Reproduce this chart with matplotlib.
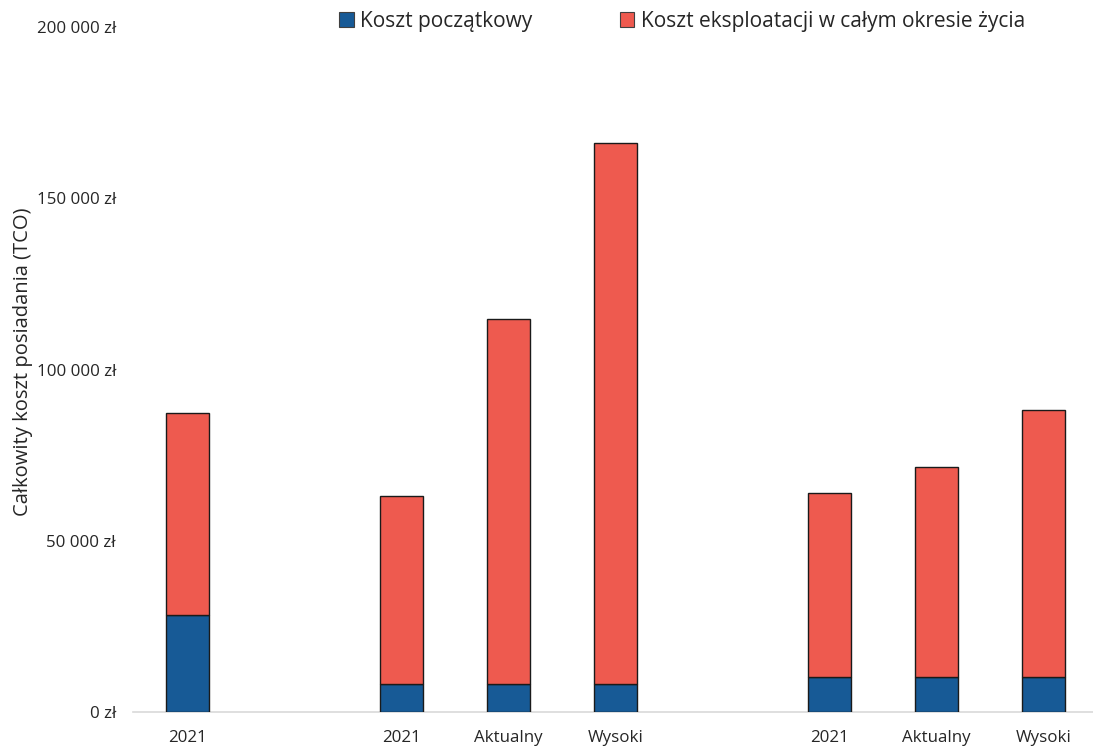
import matplotlib
matplotlib.use("Agg")
import matplotlib.pyplot as plt
from matplotlib.ticker import FuncFormatter
from matplotlib.patches import Patch

plt.rcParams['font.family'] = ['Open Sans', 'DejaVu Sans']

# Slot positions along the category axis (gaps at 1 and 5 separate the groups)
positions = [0, 2, 3, 4, 6, 7, 8]
labels = ["2021", "2021", "Aktualny", "Wysoki", "2021", "Aktualny", "Wysoki"]
initial_cost = [28300, 8250, 8250, 8250, 10150, 10150, 10150]
total_cost = [87200, 63050, 114850, 166150, 63850, 71450, 88200]
operating_cost = [t - i for t, i in zip(total_cost, initial_cost)]

series_names = ["Koszt początkowy", "Koszt eksploatacji w całym okresie życia"]
blue = "#175A96"
red = "#EE5A4F"

W, H = 1093, 747
fig = plt.figure(figsize=(W / 100, H / 100), dpi=100)
ax = fig.add_axes([133 / W, (H - 712) / H, (1093 - 133) / W, (712 - 27) / H])

ax.bar(positions, initial_cost, width=0.4, color=blue, edgecolor="#1a1a1a", linewidth=1.0, zorder=3)
ax.bar(positions, operating_cost, width=0.4, bottom=initial_cost, color=red,
       edgecolor="#1a1a1a", linewidth=1.0, zorder=3)

ax.set_xlim(-0.51, 8.46)
ax.set_ylim(0, 200000)
ax.set_yticks([0, 50000, 100000, 150000, 200000])
ax.yaxis.set_major_formatter(FuncFormatter(lambda v, p: f"{int(v):,}".replace(",", " ") + " zł"))
ax.set_xticks(positions)
ax.set_xticklabels(labels)
ax.tick_params(axis="both", length=0, labelsize=12.2, colors="#262626")
ax.tick_params(axis="y", pad=12.2)
ax.tick_params(axis="x", pad=13)

for s in ["top", "right", "left"]:
    ax.spines[s].set_visible(False)
ax.spines["bottom"].set_color("#D9D9D9")
ax.spines["bottom"].set_linewidth(1.2)

ax.set_ylabel("Całkowity koszt posiadania (TCO)", fontsize=14.5, color="#262626")
ax.yaxis.set_label_coords(-100 / 960, 0.511)

handles = [Patch(facecolor=blue, edgecolor="#404040", linewidth=0.8),
           Patch(facecolor=red, edgecolor="#404040", linewidth=0.8)]
fig.legend(handles, series_names, loc="center", bbox_to_anchor=(682 / W, 1 - 21 / H),
           ncol=2, frameon=False, fontsize=15, handlelength=0.7, handleheight=0.7,
           handletextpad=0.3, columnspacing=4.2, labelcolor="#262626")

fig.savefig("out.png", dpi=100, facecolor="white")
